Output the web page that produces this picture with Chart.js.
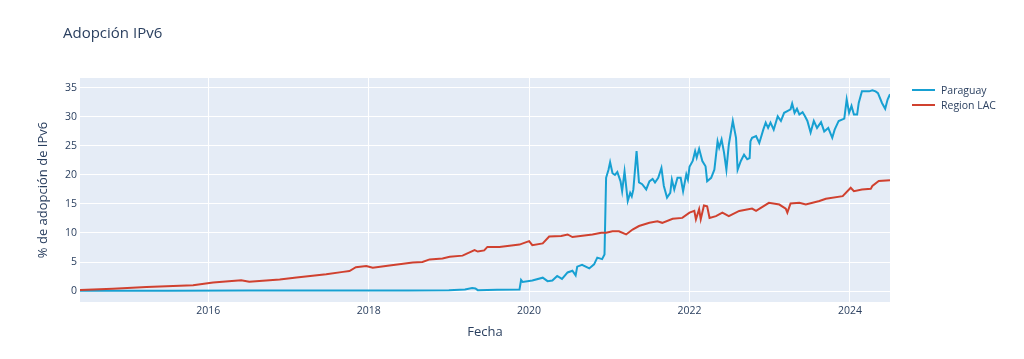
<!DOCTYPE html>
<html lang="es">
<head>
<meta charset="utf-8">
<title>Adopción IPv6</title>
<script src="https://cdn.jsdelivr.net/npm/chart.js@4.4.1/dist/chart.umd.min.js"></script>
<style>
  body { margin: 0; background: #fff; font-family: "Open Sans", Arial, sans-serif; color: #2a3f5f; }
  #wrap { position: relative; width: 1024px; height: 359px; }
  #title { position: absolute; left: 63px; top: 21px; font-size: 15px; line-height: 22px; }
  #legend { position: absolute; left: 912px; top: 83px; font-size: 10.5px; }
  .item { display: flex; align-items: center; height: 14.5px; }
  .swatch { width: 23px; height: 0; border-top: 2px solid; margin-right: 6px; }
</style>
</head>
<body>
<div id="wrap">
  <canvas id="chart"></canvas>
  <div id="title">Adopción IPv6</div>
  <div id="legend"></div>
</div>
<script>
// DATA (fecha en años decimales)
const xTicks = [2016, 2018, 2020, 2022, 2024];
const yTicks = [0, 5, 10, 15, 20, 25, 30, 35];
const seriesLabels = ["Paraguay", "Region LAC"];
const seriesColors = ["#17a0d2", "#d0412f"];

const pyYears = [
  2014.40, 2015.50, 2016.50, 2017.50, 2018.50, 2019.00, 2019.20, 2019.29, 2019.33, 2019.36,
  2019.60, 2019.88, 2019.90, 2019.92, 2020.04, 2020.17, 2020.23, 2020.29, 2020.35, 2020.41,
  2020.48, 2020.54, 2020.58, 2020.60, 2020.66, 2020.75, 2020.81, 2020.85, 2020.91, 2020.94,
  2020.96, 2020.99, 2021.01, 2021.04, 2021.07, 2021.10, 2021.14, 2021.16, 2021.19, 2021.23,
  2021.26, 2021.28, 2021.30, 2021.34, 2021.37, 2021.41, 2021.46, 2021.50, 2021.54, 2021.57,
  2021.61, 2021.65, 2021.68, 2021.72, 2021.76, 2021.78, 2021.81, 2021.85, 2021.89, 2021.92,
  2021.96, 2021.98, 2022.00, 2022.04, 2022.07, 2022.09, 2022.12, 2022.16, 2022.20, 2022.22,
  2022.27, 2022.31, 2022.35, 2022.37, 2022.40, 2022.43, 2022.46, 2022.49, 2022.54, 2022.58,
  2022.60, 2022.64, 2022.68, 2022.72, 2022.75, 2022.76, 2022.78, 2022.83, 2022.87, 2022.89,
  2022.92, 2022.95, 2022.98, 2023.01, 2023.05, 2023.10, 2023.14, 2023.18, 2023.22, 2023.26,
  2023.28, 2023.31, 2023.34, 2023.37, 2023.41, 2023.44, 2023.47, 2023.51, 2023.55, 2023.59,
  2023.64, 2023.68, 2023.73, 2023.78, 2023.81, 2023.86, 2023.93, 2023.96, 2023.99, 2024.02,
  2024.05, 2024.09, 2024.11, 2024.15, 2024.24, 2024.28, 2024.32, 2024.35, 2024.40, 2024.44,
  2024.47, 2024.50,
];
const pyValues = [
  0.05, 0.05, 0.07, 0.08, 0.1, 0.12, 0.25, 0.5, 0.45, 0.15,
  0.2, 0.25, 1.9, 1.55, 1.8, 2.3, 1.7, 1.8, 2.6, 2.1,
  3.2, 3.5, 2.7, 4.2, 4.5, 3.9, 4.6, 5.75, 5.5, 6.3,
  19.5, 20.9, 22.2, 20.3, 20.0, 20.5, 18.9, 17.2, 20.6, 15.5,
  16.9, 16.3, 17.5, 24.1, 18.7, 18.4, 17.5, 18.9, 19.3, 18.7,
  19.5, 21.2, 18.1, 16.1, 16.9, 19.2, 17.5, 19.5, 19.5, 17.2,
  20.1, 19.2, 21.4, 22.4, 24.1, 23.0, 24.5, 22.4, 21.5, 18.9,
  19.5, 20.9, 25.8, 24.7, 26.1, 23.9, 20.9, 25.2, 29.3, 26.4,
  20.9, 22.4, 23.5, 22.7, 22.9, 25.8, 26.4, 26.7, 25.5, 26.4,
  27.8, 29.0, 28.1, 29.0, 27.8, 30.1, 29.3, 30.7, 31.0, 31.3,
  32.3, 30.7, 31.4, 30.4, 30.8, 30.1, 29.3, 27.3, 29.3, 28.1,
  29.1, 27.5, 28.1, 26.4, 27.8, 29.3, 29.7, 33.0, 30.7, 31.9,
  30.4, 30.4, 32.4, 34.4, 34.4, 34.6, 34.4, 34.1, 32.4, 31.4,
  33.0, 33.9,
];

const lacYears = [
  2014.40, 2014.81, 2015.23, 2015.81, 2016.06, 2016.41, 2016.51, 2016.89, 2017.10, 2017.47,
  2017.68, 2017.76, 2017.84, 2017.97, 2018.05, 2018.26, 2018.55, 2018.67, 2018.76, 2018.92,
  2019.01, 2019.17, 2019.32, 2019.36, 2019.44, 2019.48, 2019.63, 2019.88, 2020.00, 2020.04,
  2020.17, 2020.25, 2020.40, 2020.48, 2020.54, 2020.79, 2020.90, 2020.96, 2021.04, 2021.12,
  2021.21, 2021.29, 2021.37, 2021.50, 2021.60, 2021.66, 2021.79, 2021.91, 2022.00, 2022.06,
  2022.08, 2022.12, 2022.14, 2022.18, 2022.22, 2022.25, 2022.33, 2022.41, 2022.49, 2022.62,
  2022.78, 2022.83, 2022.99, 2023.12, 2023.20, 2023.22, 2023.26, 2023.37, 2023.45, 2023.62,
  2023.70, 2023.91, 2024.01, 2024.05, 2024.15, 2024.26, 2024.28, 2024.36, 2024.50,
];
const lacValues = [
  0.17, 0.4, 0.7, 1.0, 1.45, 1.85, 1.6, 2.0, 2.35, 2.9,
  3.3, 3.45, 4.1, 4.3, 4.0, 4.4, 4.9, 5.0, 5.45, 5.6,
  5.9, 6.1, 7.05, 6.8, 7.0, 7.6, 7.6, 8.0, 8.6, 7.9,
  8.2, 9.4, 9.5, 9.75, 9.3, 9.75, 10.05, 10.05, 10.3, 10.3,
  9.75, 10.6, 11.2, 11.75, 12.0, 11.75, 12.45, 12.6, 13.5, 13.8,
  12.35, 14.1, 12.35, 14.75, 14.6, 12.6, 12.9, 13.5, 12.9, 13.8,
  14.2, 13.8, 15.2, 14.9, 14.2, 13.5, 15.1, 15.2, 14.9, 15.5,
  15.9, 16.35, 17.8, 17.2, 17.5, 17.6, 18.1, 18.95, 19.1,
];

// HELPERS
const toPoints = (xs, ys) => xs.map((x, i) => ({ x: x, y: ys[i] }));
const textColor = "#2a3f5f";
const fontFamily = "'Open Sans', Arial, sans-serif";

const plotBackground = {
  id: "plotBackground",
  beforeDraw(chart) {
    const { ctx, chartArea } = chart;
    ctx.save();
    ctx.fillStyle = "#e5ecf6";
    ctx.fillRect(chartArea.left, chartArea.top, chartArea.width, chartArea.height);
    ctx.restore();
  },
};

const config = {
  type: "line",
  data: {
    datasets: [
      {
        label: seriesLabels[0],
        data: toPoints(pyYears, pyValues),
        borderColor: seriesColors[0],
        backgroundColor: seriesColors[0],
        order: 2,
      },
      {
        label: seriesLabels[1],
        data: toPoints(lacYears, lacValues),
        borderColor: seriesColors[1],
        backgroundColor: seriesColors[1],
        order: 1,
      },
    ],
  },
  options: {
    responsive: true,
    maintainAspectRatio: false,
    animation: false,
    layout: { padding: { left: 0, right: 134, top: 78, bottom: 0 } },
    elements: {
      point: { radius: 0 },
      line: { borderWidth: 2, tension: 0 },
    },
    plugins: {
      legend: { display: false },
      tooltip: { enabled: false },
    },
    scales: {
      x: {
        type: "linear",
        min: 2014.4,
        max: 2024.5,
        afterBuildTicks: (scale) => {
          scale.ticks = xTicks.map((v) => ({ value: v }));
        },
        afterFit: (scale) => {
          scale.height = 57;
        },
        ticks: {
          color: textColor,
          font: { family: fontFamily, size: 10.5 },
          padding: 3,
          maxRotation: 0,
          callback: (v) => String(v),
        },
        grid: { color: "#ffffff", lineWidth: 1, drawTicks: false },
        border: { display: false },
        title: {
          display: true,
          text: "Fecha",
          color: textColor,
          font: { family: fontFamily, size: 13 },
          padding: { top: 0, bottom: 19 },
        },
      },
      y: {
        min: -1.89,
        max: 36.7,
        afterBuildTicks: (scale) => {
          scale.ticks = yTicks.map((v) => ({ value: v }));
        },
        afterFit: (scale) => {
          scale.width = 80;
        },
        ticks: {
          color: textColor,
          font: { family: fontFamily, size: 10.5 },
          padding: 3,
        },
        grid: { color: "#ffffff", lineWidth: 1, drawTicks: false },
        border: { display: false },
        title: {
          display: true,
          text: "% de adopción de IPv6",
          color: textColor,
          font: { family: fontFamily, size: 13 },
          padding: { top: 35, bottom: 0 },
        },
      },
    },
  },
  plugins: [plotBackground],
};

const chart = new Chart(document.getElementById("chart"), config);

// LEGEND
const legendEl = document.getElementById("legend");
chart.data.datasets.forEach((ds) => {
  const item = document.createElement("div");
  item.className = "item";
  const swatch = document.createElement("span");
  swatch.className = "swatch";
  swatch.style.borderColor = ds.borderColor;
  const label = document.createElement("span");
  label.textContent = ds.label;
  item.appendChild(swatch);
  item.appendChild(label);
  legendEl.appendChild(item);
});
</script>
</body>
</html>
